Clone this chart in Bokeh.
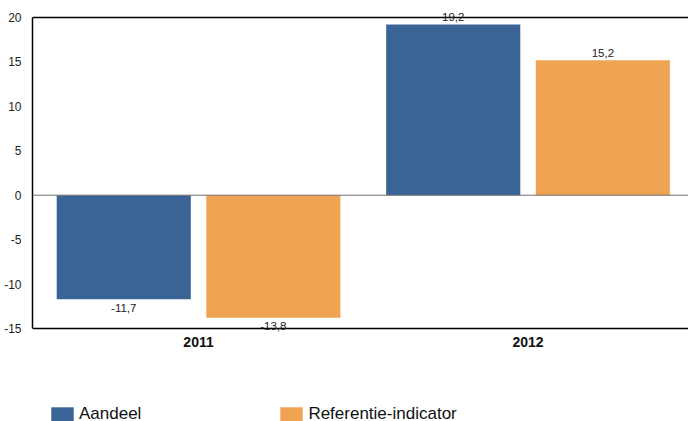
from bokeh.plotting import figure
from bokeh.models import (ColumnDataSource, FixedTicker, LabelSet, Range1d,
                          Span, Legend, LegendItem)
from bokeh.core.properties import value
from bokeh.transform import dodge
from bokeh.embed import file_html
from bokeh.resources import INLINE

# Annual return (%) of the share vs. the reference indicator
years = ["2011", "2012"]
aandeel = [-11.7, 19.2]
referentie = [-13.8, 15.2]
series_names = ["Aandeel", "Referentie-indicator"]
y_ticks = [-15, -10, -5, 0, 5, 10, 15, 20]
y_tick_labels = ["-15", "-10", "-5", "0", "5", "10", "15", "20"]

BLUE = "#3A6496"
ORANGE = "#F0A352"
FONT = "Liberation Sans"

W, H = 688, 421
LEFT = 32
FRAME_TOP = 2                        # frame starts above the 20 line so labels are not clipped
TOP, AXIS_BOTTOM = 17, 328           # pixel rows of the 20 and -15 lines
Y_MIN, Y_MAX = -15, 20
px_per_unit = (AXIS_BOTTOM - TOP) / (Y_MAX - Y_MIN)
y_end = Y_MAX + (TOP - FRAME_TOP) / px_per_unit
# extend the frame below the value axis so the legend sits inside it
y_start = Y_MIN - (H - AXIS_BOTTOM) / px_per_unit

# horizontal layout: one category slot per year, slightly wider than half the frame
X_START, X_END = -0.504, 1.487
OFFSET = 0.227
WIDTH = 0.407


def fmt(v):
    return f"{v:.1f}".replace(".", ",")


def make_source(values):
    return ColumnDataSource(dict(
        pos=list(range(len(years))),
        top=values,
        label=[fmt(v) for v in values],
        baseline=["bottom" if v >= 0 else "top" for v in values],
        yoff=[3.5 if v >= 0 else -4.5 for v in values],
    ))


src_a = make_source(aandeel)
src_r = make_source(referentie)

p = figure(width=W, height=H, x_range=Range1d(X_START, X_END),
           y_range=(y_start, y_end), output_backend="svg", toolbar_location=None,
           min_border_left=LEFT, min_border_right=0, min_border_top=FRAME_TOP,
           min_border_bottom=0)
p.outline_line_color = None
p.xgrid.grid_line_color = None
p.ygrid.grid_line_color = None
p.background_fill_color = "white"
p.border_fill_color = "white"
p.xaxis.visible = False

r_a = p.vbar(x=dodge("pos", -OFFSET), top="top", bottom=0,
             width=WIDTH, source=src_a, fill_color=BLUE, line_color=None)
r_r = p.vbar(x=dodge("pos", OFFSET), top="top", bottom=0,
             width=WIDTH, source=src_r, fill_color=ORANGE, line_color=None)

# zero line, top border and bottom axis line
p.add_layout(Span(location=0, dimension="width", line_color="#6f6f6f", line_width=1))
p.add_layout(Span(location=Y_MAX, dimension="width", line_color="black", line_width=1.5))
p.add_layout(Span(location=Y_MIN, dimension="width", line_color="black", line_width=1.5))

for src, off in ((src_a, -OFFSET), (src_r, OFFSET)):
    p.add_layout(LabelSet(x=dodge("pos", off), y="top",
                          text="label", source=src, text_align="center",
                          text_baseline="baseline", y_offset="yoff",
                          text_font=value(FONT), text_font_size="11.5px",
                          text_color="#222222"))

# category labels under the value axis
cat_src = ColumnDataSource(dict(pos=list(range(len(years))), year=years,
                                y=[Y_MIN] * len(years)))
p.add_layout(LabelSet(x="pos", y="y", text="year", source=cat_src,
                      text_align="center", text_baseline="top", y_offset=-8,
                      text_font=value(FONT), text_font_size="14px",
                      text_font_style="bold", text_color="#111111"))

# y axis
p.yaxis.ticker = FixedTicker(ticks=y_ticks)
p.yaxis.bounds = (Y_MIN, Y_MAX)
p.yaxis.major_label_overrides = dict(zip(y_ticks, y_tick_labels))
p.yaxis.major_tick_line_color = None
p.yaxis.minor_tick_line_color = None
p.yaxis.axis_line_color = "black"
p.yaxis.axis_line_width = 1.5
p.yaxis.major_label_text_font = FONT
p.yaxis.major_label_text_font_size = "12px"
p.yaxis.major_label_text_color = "#222222"
p.yaxis.major_label_standoff = 5

legend = Legend(items=[LegendItem(label=series_names[0], renderers=[r_a]),
                       LegendItem(label=series_names[1], renderers=[r_r])],
                orientation="horizontal", location=(16, -3),
                glyph_width=28, glyph_height=18, label_height=20,
                label_standoff=3, spacing=136, padding=0, margin=0,
                label_text_font=FONT, label_text_font_size="17px",
                label_text_color="#111111",
                border_line_color=None, background_fill_alpha=0)
p.add_layout(legend, "center")

open("out.html", "w").write(file_html(p, INLINE))
